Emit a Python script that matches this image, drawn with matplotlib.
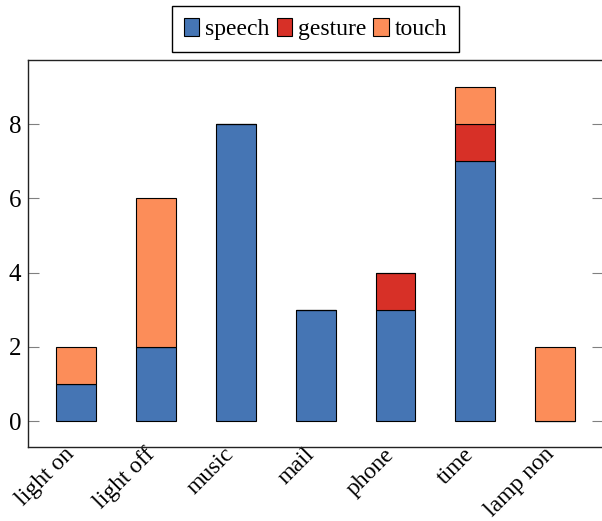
import matplotlib
matplotlib.use('Agg')
import matplotlib.pyplot as plt
import matplotlib.transforms as mtrans
import numpy as np

plt.rcParams['font.family'] = ['Liberation Serif', 'DejaVu Serif']

categories = ['light on', 'light off', 'music', 'mail', 'phone', 'time', 'lamp non']
speech = [1, 2, 8, 3, 3, 7, 0]
gesture = [0, 0, 0, 0, 1, 1, 0]
touch = [1, 4, 0, 0, 0, 1, 2]

series = [('speech', speech, '#4575b4'),
          ('gesture', gesture, '#d73027'),
          ('touch', touch, '#fc8d59')]

fig = plt.figure(figsize=(6.02, 5.21), dpi=100)
ax = fig.add_axes([28 / 602, 1 - 447 / 521, 1 - 28 / 602 + 0.002, (447 - 60) / 521])

x = np.arange(len(categories))
bottom = np.zeros(len(categories))
for name, vals, col in series:
    ax.bar(x, vals, width=0.5, bottom=bottom, color=col, edgecolor='black',
           linewidth=0.8, label=name)
    bottom += np.array(vals)

ax.set_xlim(-0.6, 6.6)
ax.set_ylim(-0.7, 9.73)
ax.set_yticks([0, 2, 4, 6, 8])
ax.set_xticks(x)
ax.set_xticklabels(categories, rotation=45, ha='right', rotation_mode='anchor')
ax.tick_params(axis='x', length=0, labelsize=17, pad=0)
ax.tick_params(axis='y', direction='in', length=8, color='#808080', width=0.8,
               labelsize=18, right=True, pad=5)
# nudge rotated labels so their ends sit just left of the bar centres
shift = mtrans.ScaledTranslation(-12 / 100, 3 / 100, fig.dpi_scale_trans)
for lbl in ax.get_xticklabels():
    lbl.set_transform(lbl.get_transform() + shift)
for s in ax.spines.values():
    s.set_linewidth(1.0)
    s.set_color('#222222')

ax.legend(loc='lower center', bbox_to_anchor=(0.5, 1.0), ncol=3, fontsize=17,
          frameon=True, fancybox=False, edgecolor='black', framealpha=1,
          handlelength=0.65, handleheight=0.78, handletextpad=0.25,
          columnspacing=0.3, borderpad=0.5, borderaxespad=0.34)

fig.savefig('out.png', dpi=100)
